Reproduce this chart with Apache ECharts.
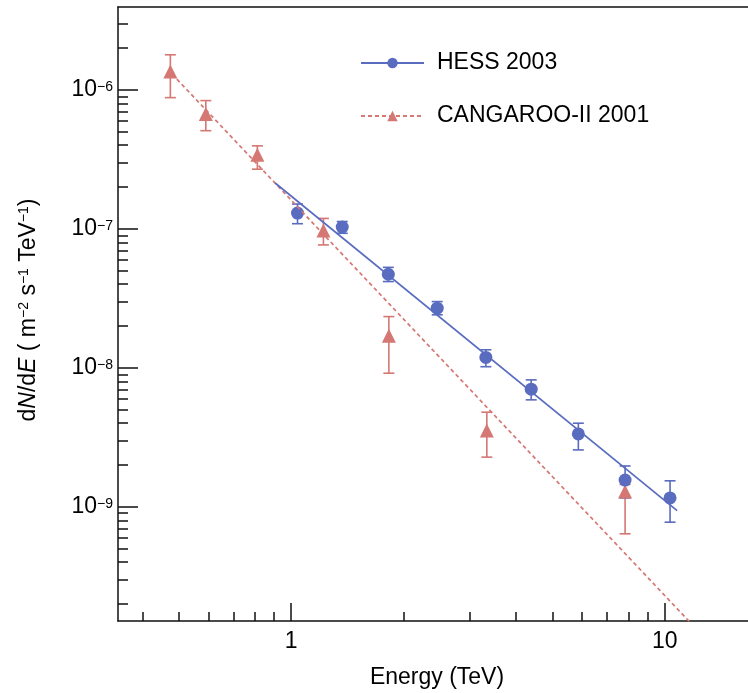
<!DOCTYPE html>
<html>
<head>
<meta charset="utf-8">
<title>dN/dE spectrum</title>
<script src="https://cdn.jsdelivr.net/npm/echarts@6.0.0/dist/echarts.min.js"></script>
<style>
  html, body { margin: 0; padding: 0; background: #fff; }
  #chart { width: 748px; height: 693px; }
</style>
</head>
<body>
<div id="chart"></div>
<script>
// HESS 2003 points (energy in TeV, flux in m^-2 s^-1 TeV^-1)
const hessEnergy = [1.04, 1.37, 1.82, 2.46, 3.32, 4.39, 5.87, 7.83, 10.33]
const hessFlux = [1.30e-7, 1.03e-7, 4.72e-8, 2.69e-8, 1.19e-8, 7.03e-9, 3.35e-9, 1.56e-9, 1.16e-9]
const hessLow = [1.09e-7, 9.3e-8, 4.18e-8, 2.41e-8, 1.02e-8, 5.89e-9, 2.57e-9, 1.16e-9, 7.76e-10]
const hessHigh = [1.51e-7, 1.13e-7, 5.29e-8, 3.0e-8, 1.35e-8, 8.2e-9, 4.0e-9, 1.97e-9, 1.54e-9]

// CANGAROO-II 2001 points
const cangEnergy = [0.475, 0.591, 0.812, 1.22, 1.826, 3.34, 7.83]
const cangFlux = [1.355e-6, 6.72e-7, 3.41e-7, 9.72e-8, 1.70e-8, 3.54e-9, 1.29e-9]
const cangLow = [8.8e-7, 5.09e-7, 2.69e-7, 7.67e-8, 9.16e-9, 2.28e-9, 6.4e-10]
const cangHigh = [1.79e-6, 8.38e-7, 3.96e-7, 1.19e-7, 2.34e-8, 4.80e-9, 1.45e-9]

// power-law fits, end points
const hessFitEnergy = [0.906, 10.79]
const hessFitFlux = [2.14e-7, 9.4e-10]
const cangFitEnergy = [0.48, 12.5]
const cangFitFlux = [1.3e-6, 1.22e-10]

// axes
const xRange = [0.344, 16.7]
const yRange = [1.51e-10, 3.95e-6]
const xMajorTicks = [1, 10]
const yMajorTicks = [1e-9, 1e-8, 1e-7, 1e-6]

const blue = '#5a6cbf'
const red = '#d57772'
const font = 'Liberation Sans, Arial, Helvetica, sans-serif'
const fs = 23

// 2..9 x 10^n inside the range
function minorTicks(range) {
  const out = []
  const p0 = Math.floor(Math.log10(range[0]))
  const p1 = Math.ceil(Math.log10(range[1]))
  for (let p = p0; p <= p1; p++) {
    for (let k = 2; k <= 9; k++) {
      const v = k * Math.pow(10, p)
      if (v >= range[0] && v <= range[1]) out.push(v)
    }
  }
  return out
}

function pairs(xs, ys) {
  return xs.map((x, i) => [x, ys[i]])
}

function bars(xs, lo, hi) {
  return xs.map((x, i) => [x, lo[i], hi[i]])
}

function errorBars(color) {
  return function (params, api) {
    const x = api.value(0)
    const lo = api.coord([x, api.value(1)])
    const hi = api.coord([x, api.value(2)])
    const w = 5.5
    const style = { stroke: color, lineWidth: 1.6, fill: null }
    return {
      type: 'group',
      children: [
        { type: 'line', shape: { x1: lo[0], y1: lo[1], x2: hi[0], y2: hi[1] }, style: style },
        { type: 'line', shape: { x1: lo[0] - w, y1: lo[1], x2: lo[0] + w, y2: lo[1] }, style: style },
        { type: 'line', shape: { x1: hi[0] - w, y1: hi[1], x2: hi[0] + w, y2: hi[1] }, style: style }
      ]
    }
  }
}

const axisLineStyle = { color: '#111', width: 1.5 }
const gridBox = { left: 118, right: 0, top: 7, bottom: 72, outerBoundsMode: 'none' }

const chart = echarts.init(document.getElementById('chart'))
chart.setOption({
  animation: false,
  backgroundColor: '#fff',
  textStyle: { fontFamily: font },
  grid: [gridBox, Object.assign({}, gridBox)],
  legend: {
    data: ['HESS 2003', 'CANGAROO-II 2001'],
    orient: 'vertical',
    left: 355,
    top: 45,
    itemWidth: 63,
    itemHeight: 13,
    itemGap: 27,
    textStyle: { fontSize: fs, color: '#000', fontFamily: font, lineHeight: 26, padding: [0, 0, 0, 8] }
  },
  xAxis: [
    {
      type: 'log', gridIndex: 0, min: xRange[0], max: xRange[1], position: 'bottom',
      axisLine: { lineStyle: axisLineStyle },
      axisTick: { inside: true, length: 18, customValues: xMajorTicks, lineStyle: axisLineStyle },
      axisLabel: { customValues: xMajorTicks, formatter: v => String(v), fontSize: fs, margin: 9, color: '#000', fontFamily: font },
      splitLine: { show: false },
      name: 'Energy (TeV)', nameLocation: 'middle', nameGap: 45,
      nameTextStyle: { fontSize: fs, color: '#000', fontFamily: font, padding: [0, 0, 0, 8] }
    },
    {
      type: 'value', gridIndex: 0, position: 'top', min: 0, max: 1,
      axisLine: { show: true, onZero: false, lineStyle: axisLineStyle },
      axisTick: { show: false }, axisLabel: { show: false }, splitLine: { show: false }
    },
    {
      type: 'log', gridIndex: 1, min: xRange[0], max: xRange[1], position: 'bottom',
      axisLine: { show: false },
      axisTick: { inside: true, length: 9, customValues: minorTicks(xRange), lineStyle: axisLineStyle },
      axisLabel: { show: false }, splitLine: { show: false }
    }
  ],
  yAxis: [
    {
      type: 'log', gridIndex: 0, min: yRange[0], max: yRange[1],
      axisLine: { onZero: false, lineStyle: axisLineStyle },
      axisTick: { inside: true, length: 20, customValues: yMajorTicks, lineStyle: axisLineStyle },
      axisLabel: {
        customValues: yMajorTicks,
        margin: 5,
        formatter: v => {
          const e = Math.round(Math.log10(v))
          return '{b|10}{s|' + (e < 0 ? '\u2212' : '') + Math.abs(e) + '}'
        },
        rich: {
          b: { fontSize: fs, lineHeight: 23, color: '#000', verticalAlign: 'bottom', fontFamily: font },
          s: { fontSize: 14, lineHeight: 14, color: '#000', verticalAlign: 'bottom', padding: [0, 0, 7, 0], fontFamily: font }
        }
      },
      splitLine: { show: false },
      name: '{n|d}{i|N}{n|/d}{i|E}{n| ( m}{s|\u22122}{n| s}{s|\u22121}{n| TeV}{s|\u22121}{n|)}',
      nameLocation: 'middle', nameRotate: 90, nameGap: 78,
      nameTextStyle: {
        padding: [0, 0, 0, 8],
        rich: {
          n: { fontSize: fs, lineHeight: 24, color: '#000', verticalAlign: 'bottom', fontFamily: font },
          i: { fontSize: fs, lineHeight: 24, color: '#000', fontStyle: 'italic', verticalAlign: 'bottom', fontFamily: font },
          s: { fontSize: 14, lineHeight: 14, color: '#000', verticalAlign: 'bottom', padding: [0, 0, 9, 0], fontFamily: font }
        }
      }
    },
    {
      type: 'log', gridIndex: 1, min: yRange[0], max: yRange[1],
      axisLine: { show: false },
      axisTick: { inside: true, length: 10, customValues: minorTicks(yRange), lineStyle: axisLineStyle },
      axisLabel: { show: false }, splitLine: { show: false }
    }
  ],
  series: [
    {
      name: 'CANGAROO-II 2001', type: 'line', xAxisIndex: 0, yAxisIndex: 0,
      data: pairs(cangFitEnergy, cangFitFlux),
      symbol: 'triangle', symbolSize: 12, showSymbol: false, silent: true,
      lineStyle: { color: red, width: 1.7, type: [4, 3] },
      itemStyle: { color: red }
    },
    {
      name: 'CANGAROO-II 2001', type: 'custom', xAxisIndex: 0, yAxisIndex: 0,
      data: bars(cangEnergy, cangLow, cangHigh),
      encode: { x: 0, y: [1, 2] },
      renderItem: errorBars(red), silent: true
    },
    {
      name: 'CANGAROO-II 2001', type: 'scatter', xAxisIndex: 0, yAxisIndex: 0,
      data: pairs(cangEnergy, cangFlux),
      symbol: 'triangle', symbolSize: 14,
      itemStyle: { color: red, opacity: 1 }
    },
    {
      name: 'HESS 2003', type: 'line', xAxisIndex: 0, yAxisIndex: 0,
      data: pairs(hessFitEnergy, hessFitFlux),
      symbol: 'circle', symbolSize: 10, showSymbol: false, silent: true,
      lineStyle: { color: blue, width: 1.7 },
      itemStyle: { color: blue }
    },
    {
      name: 'HESS 2003', type: 'custom', xAxisIndex: 0, yAxisIndex: 0,
      data: bars(hessEnergy, hessLow, hessHigh),
      encode: { x: 0, y: [1, 2] },
      renderItem: errorBars(blue), silent: true
    },
    {
      name: 'HESS 2003', type: 'scatter', xAxisIndex: 0, yAxisIndex: 0,
      data: pairs(hessEnergy, hessFlux),
      symbol: 'circle', symbolSize: 13,
      itemStyle: { color: blue, opacity: 1 }
    }
  ]
})
</script>
</body>
</html>
